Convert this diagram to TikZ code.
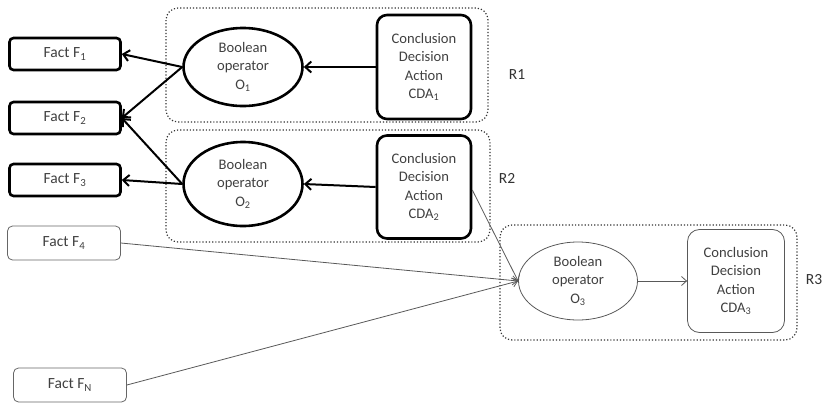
\documentclass[tikz,border=0pt]{standalone}
\usepackage{fontspec}
\setmainfont{Carlito}
\usetikzlibrary{arrows.meta,shapes.geometric}
\begin{document}
\begin{tikzpicture}[x=1pt,y=-1pt,
  txt/.style={text=black!75, font=\fontsize{14.6}{18.5}\selectfont, align=center},
  facttxt/.style={text=black!75, font=\fontsize{15.5}{18}\selectfont, align=center},
  factthick/.style={facttxt, draw=black, line width=2.6pt, rounded corners=4pt, minimum width=111pt, minimum height=32pt, inner sep=0pt},
  factthin/.style={facttxt, draw=black!60, line width=0.8pt, rounded corners=5pt, minimum width=113pt, minimum height=34pt, inner sep=0pt},
  opthick/.style={txt, ellipse, draw=black, line width=2.6pt, minimum width=119pt, inner sep=0pt},
  opthin/.style={txt, ellipse, draw=black!65, line width=0.8pt, minimum width=119pt, minimum height=78pt, inner sep=0pt},
  cdathick/.style={txt, draw=black, line width=2.6pt, rounded corners=10pt, minimum width=94pt, inner sep=0pt},
  cdathin/.style={txt, draw=black!65, line width=0.8pt, rounded corners=12pt, minimum width=97pt, minimum height=103pt, inner sep=0pt},
  region/.style={draw=black!80, line width=1.2pt, dotted, rounded corners=12pt},
  lab/.style={text=black!80, font=\fontsize{15.5}{17}\selectfont},
  thickarr/.style={draw=black, line width=2pt, -{Straight Barb[length=6pt,width=11pt]}},
  thinarr/.style={draw=black!65, line width=0.8pt, -{Straight Barb[length=5pt,width=9pt]}}
]
\useasboundingbox (0,0) rectangle (825,402);
% regions
\draw[region] (166,8) rectangle (488,122);
\draw[region] (166,130) rectangle (490,242);
\draw[region] (500,225) rectangle (797,340);
\node[lab] (r1) at (517,75) {R1};
\node[lab] (r2) at (507,178) {R2};
\node[lab] (r3) at (814,280) {R3};
% facts
\node[factthick] (f1) at (65,54) {Fact F\textsubscript{1}};
\node[factthick] (f2) at (65,118) {Fact F\textsubscript{2}};
\node[factthick] (f3) at (65,180) {Fact F\textsubscript{3}};
\node[factthin] (f4) at (64,243) {Fact F\textsubscript{4}};
\node[factthin] (fn) at (70,385) {Fact F\textsubscript{N}};
% operators
\node[opthick, minimum height=78pt] (o1) at (243,67) {Boolean\\operator\\O\textsubscript{1}};
\node[opthick, minimum height=84pt] (o2) at (243,184) {Boolean\\operator\\O\textsubscript{2}};
\node[opthin] (o3) at (578,281) {Boolean\\operator\\O\textsubscript{3}};
% CDAs
\node[cdathick, minimum height=104pt] (c1) at (424,67) {Conclusion\\Decision\\Action\\CDA\textsubscript{1}};
\node[cdathick, minimum height=103pt] (c2) at (424,187) {Conclusion\\Decision\\Action\\CDA\textsubscript{2}};
\node[cdathin] (c3) at (736,281) {Conclusion\\Decision\\Action\\CDA\textsubscript{3}};
% connectors
\path[thickarr] (o1.west) -- (f1.east);
\path[thickarr] (o1.west) -- (f2.east);
\path[thickarr] (o2.west) -- (f2.east);
\path[thickarr] (o2.west) -- (f3.east);
\path[thickarr] (c1.west) -- (o1.east);
\path[thickarr] (c2.west) -- (o2.east);
\coordinate (c2out) at ([yshift=-3pt]c2.east);
\path[thinarr] (c2out) -- (o3.west);
\path[thinarr] (f4.east) -- (o3.west);
\path[thinarr] (fn.east) -- (o3.west);
\path[thinarr] (o3.east) -- (c3.west);
\end{tikzpicture}
\end{document}
